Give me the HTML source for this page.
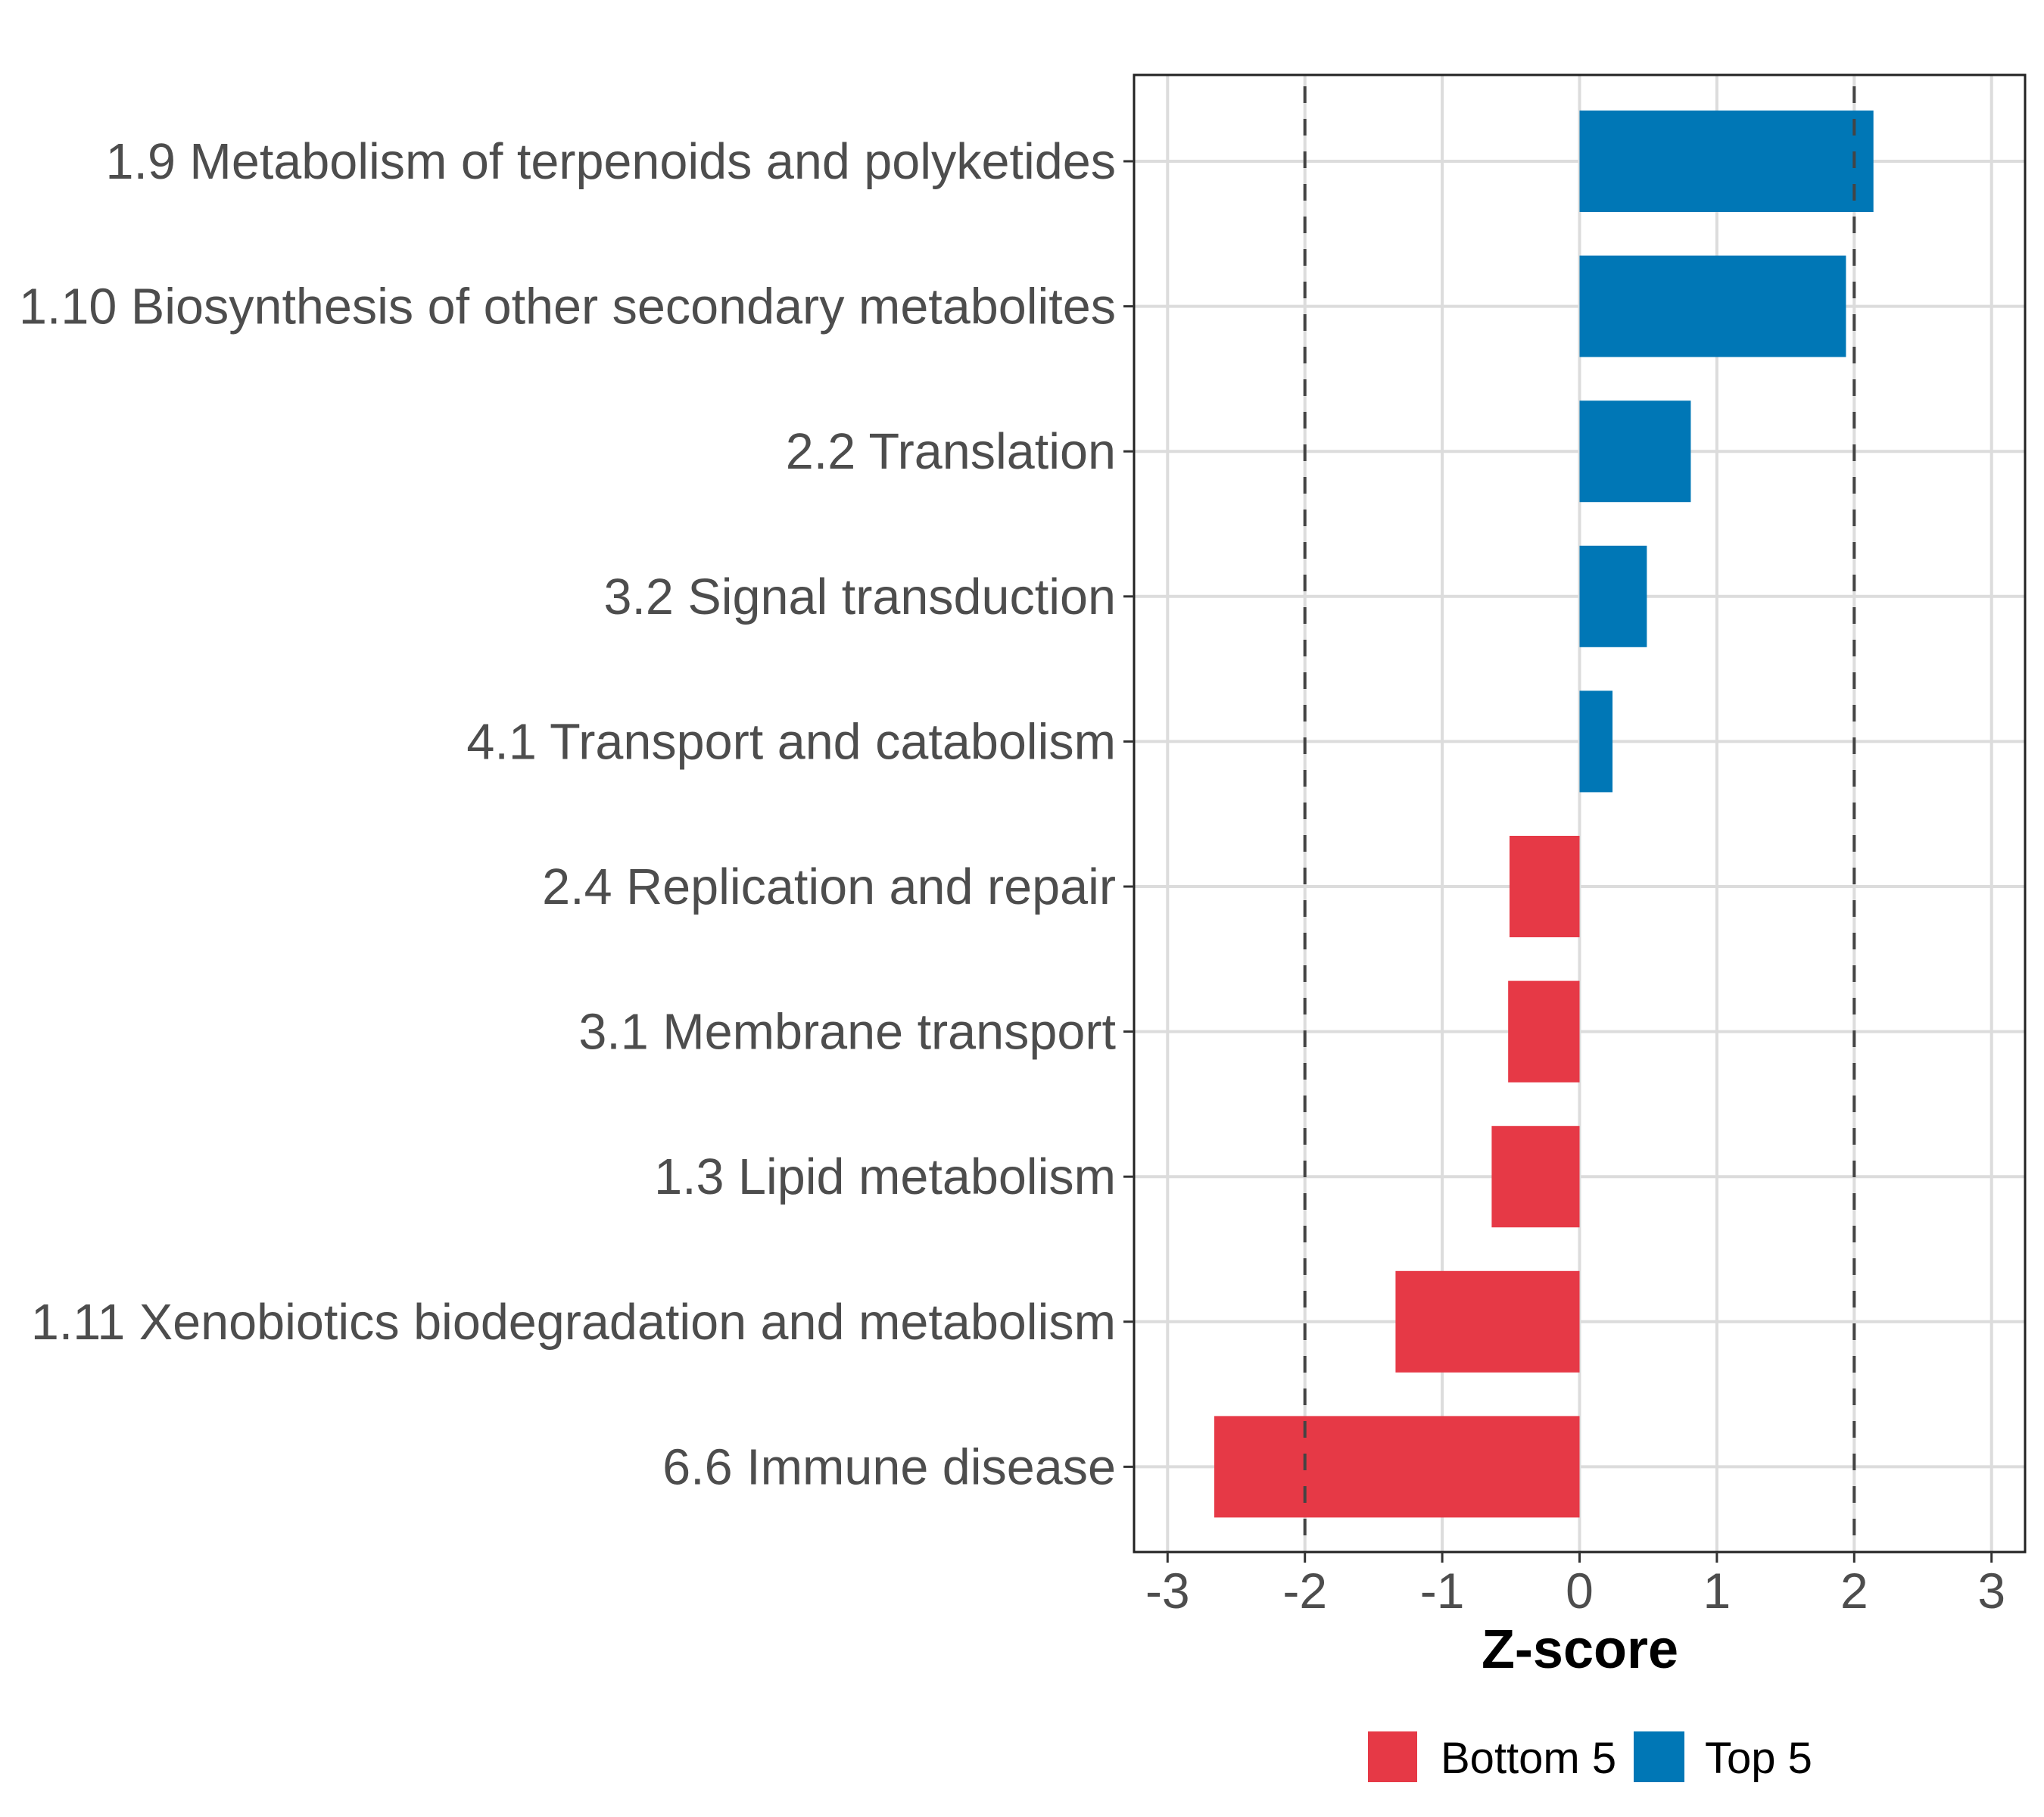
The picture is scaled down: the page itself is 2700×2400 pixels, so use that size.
<!DOCTYPE html>
<html><head><meta charset="utf-8"><style>
body{margin:0;background:#fff}
svg{display:block;font-family:"Liberation Sans",sans-serif}
</style></head><body>
<svg id="chart" width="2700" height="2400" viewBox="0 0 2700 2400" xmlns="http://www.w3.org/2000/svg">
<rect width="2700" height="2400" fill="#fff"/>
<g id="grid"></g>
<g id="bars"></g>
<g id="ref"></g>
<rect x="1498" y="99" width="1177" height="1951" fill="none" stroke="#222" stroke-width="3"/>
<g id="yaxis"></g>
<g id="xaxis"></g>
<text x="2087" y="2203" font-size="72" font-weight="bold" text-anchor="middle" fill="#000">Z-score</text>
<g>
<rect x="1807" y="2287" width="65" height="67" fill="#e63946"/>
<text x="1903" y="2342" font-size="58" fill="#000">Bottom 5</text>
<rect x="2158" y="2287" width="67" height="67" fill="#0077b6"/>
<text x="2252" y="2342" font-size="58" fill="#000">Top 5</text>
</g>
</svg>
<script>
const categories = ["1.9 Metabolism of terpenoids and polyketides","1.10 Biosynthesis of other secondary metabolites","2.2 Translation","3.2 Signal transduction","4.1 Transport and catabolism","2.4 Replication and repair","3.1 Membrane transport","1.3 Lipid metabolism","1.11 Xenobiotics biodegradation and metabolism","6.6 Immune disease"];
const zscores = [2.14, 1.94, 0.81, 0.49, 0.24, -0.51, -0.52, -0.64, -1.34, -2.66];
const groups = ["Top 5","Top 5","Top 5","Top 5","Top 5","Bottom 5","Bottom 5","Bottom 5","Bottom 5","Bottom 5"];
const xTicks = [-3,-2,-1,0,1,2,3];
const xTickLabels = ["-3","-2","-1","0","1","2","3"];
const refLines = [-2, 2];

const NS="http://www.w3.org/2000/svg";
const X0=2086.5, UNIT=181.4, LEFT=1498, RIGHT=2675, TOP=99, BOTTOM=2050;
const ROW0=213, ROWSTEP=191.6, BARH=134;
const xs=v=>X0+v*UNIT;
const ys=i=>ROW0+i*ROWSTEP;
function mk(tag,attrs,parent){const e=document.createElementNS(NS,tag);for(const k in attrs)e.setAttribute(k,attrs[k]);parent.appendChild(e);return e;}
const grid=document.getElementById('grid'),bars=document.getElementById('bars'),ref=document.getElementById('ref'),yaxis=document.getElementById('yaxis'),xaxis=document.getElementById('xaxis');
xTicks.forEach((t,i)=>{
  const g=mk('line',{x1:xs(t),x2:xs(t),y1:TOP,y2:BOTTOM,stroke:'#dcdcdc','stroke-width':4},grid);
  
  
  const tk=mk('line',{x1:xs(t),x2:xs(t),y1:BOTTOM,y2:BOTTOM+14,stroke:'#333','stroke-width':3},xaxis);
  
  
  const tl=mk('text',{x:xs(t),y:BOTTOM+74,'font-size':66,'text-anchor':'middle',fill:'#4d4d4d'},xaxis);
  tl.textContent=xTickLabels[i];
  
  
});
categories.forEach((c,i)=>{
  const g=mk('line',{x1:LEFT,x2:RIGHT,y1:ys(i),y2:ys(i),stroke:'#dcdcdc','stroke-width':4},grid);
  
  
  const v=zscores[i];
  const b=mk('rect',{x:Math.min(xs(0),xs(v)),y:ys(i)-BARH/2,width:Math.abs(xs(v)-xs(0)),height:BARH,fill:groups[i]==='Top 5'?'#0077b6':'#e63946'},bars);
  
  
  const tk=mk('line',{x1:LEFT-14,x2:LEFT,y1:ys(i),y2:ys(i),stroke:'#333','stroke-width':3},yaxis);
  
  
  const tl=mk('text',{x:LEFT-24,y:ys(i)+23,'font-size':66.5,'text-anchor':'end',fill:'#4d4d4d'},yaxis);
  tl.textContent=c;
  
  
});
refLines.forEach(r=>{
  const l=mk('line',{x1:xs(r),x2:xs(r),y1:TOP,y2:BOTTOM,stroke:'#444','stroke-width':4,'stroke-dasharray':'22,21','stroke-dashoffset':'-15'},ref);
  
  
});
</script>
</body></html>
